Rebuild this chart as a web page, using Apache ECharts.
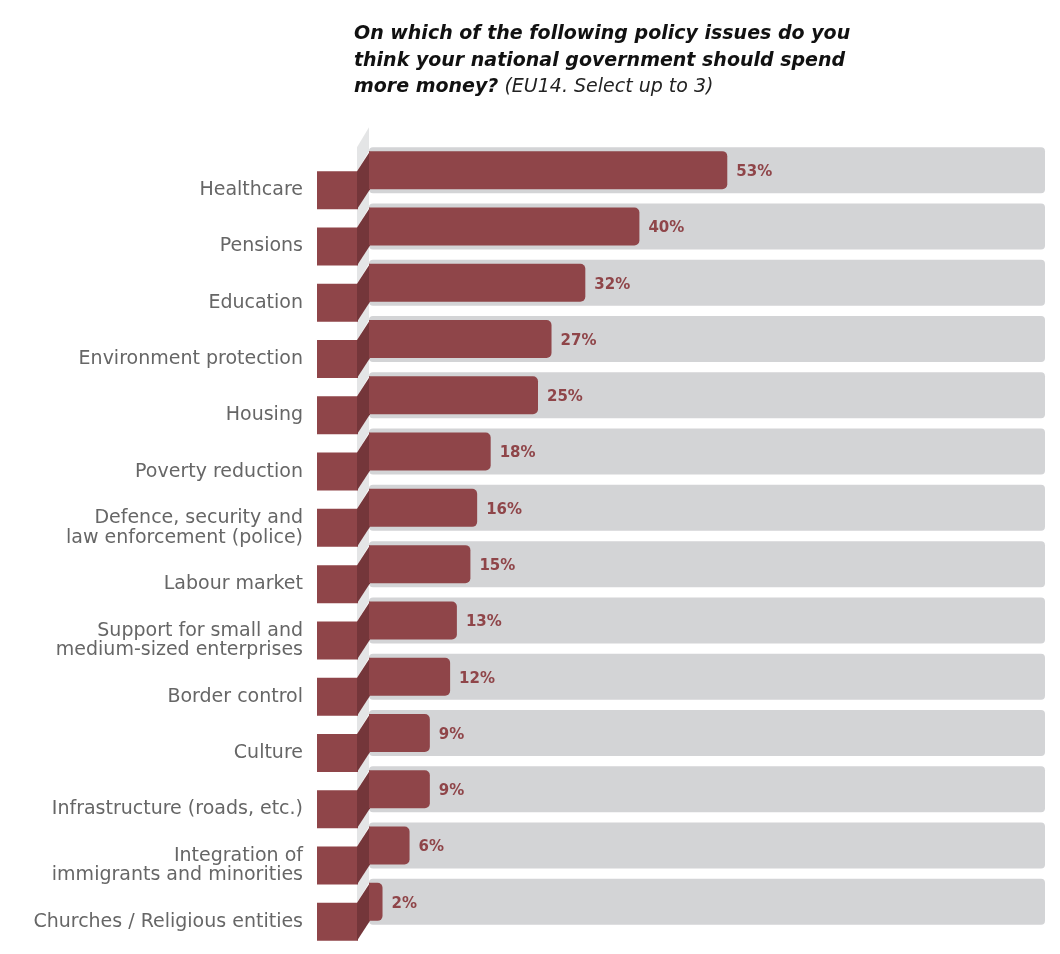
<!DOCTYPE html>
<html>
<head>
<meta charset="utf-8">
<script src="https://cdn.jsdelivr.net/npm/echarts@6/dist/echarts.min.js"></script>
<style>
  html, body { margin: 0; padding: 0; background: #fff; }
  #chart { width: 1060px; height: 954px; }
</style>
</head>
<body>
<div id="chart"></div>
<script>
// categories, top to bottom
const categories = [
  'Healthcare',
  'Pensions',
  'Education',
  'Environment protection',
  'Housing',
  'Poverty reduction',
  'Defence, security and\nlaw enforcement (police)',
  'Labour market',
  'Support for small and\nmedium-sized enterprises',
  'Border control',
  'Culture',
  'Infrastructure (roads, etc.)',
  'Integration of\nimmigrants and minorities',
  'Churches / Religious entities'
];
// share of respondents, %
const values = [53, 40, 32, 27, 25, 18, 16, 15, 13, 12, 9, 9, 6, 2];
const scaleMax = 100;

const RED = '#8f4549';
const RED_DARK = '#74363a';
const GRAY = '#d3d4d6';
const GRAY_FOLD = '#e4e5e6';

const chart = echarts.init(document.getElementById('chart'));

// gray track + light fold above each row
const renderTrack = (params, api) => {
  const i = api.value(1);
  const start = api.coord([0, i]);
  const end = api.coord([api.value(0), i]);
  const cy = start[1];
  const x0 = start[0];
  return {
    type: 'group',
    children: [
      {
        type: 'rect',
        shape: { x: x0, y: cy - 23, width: end[0] - x0, height: 46, r: 4 },
        style: { fill: GRAY }
      },
      {
        type: 'polygon',
        shape: { points: [[x0 - 12, cy - 23], [x0, cy - 43], [x0, cy - 19], [x0 - 12, cy + 1]] },
        style: { fill: GRAY_FOLD }
      }
    ]
  };
};

// folded ribbon: block on the left + dark slanted piece + category name
const renderFold = (params, api) => {
  const i = api.value(1);
  const start = api.coord([0, i]);
  const cy = start[1];
  const x0 = start[0];
  return {
    type: 'group',
    children: [
      {
        type: 'rect',
        shape: { x: x0 - 52, y: cy + 1, width: 41, height: 38 },
        style: { fill: RED }
      },
      {
        type: 'polygon',
        shape: { points: [[x0 - 12, cy + 1], [x0 + 1, cy - 19], [x0 + 1, cy + 19], [x0 - 12, cy + 39]] },
        style: { fill: RED_DARK }
      },
      {
        type: 'text',
        x: x0 - 66,
        y: cy + 20,
        style: {
          text: categories[i],
          align: 'right',
          verticalAlign: 'middle',
          fontFamily: 'DejaVu Sans',
          fontSize: 19,
          lineHeight: 19.5,
          fill: '#666'
        }
      }
    ]
  };
};

const rows = categories.map((c, i) => [scaleMax, i]);

chart.setOption({
  animation: false,
  title: {
    left: 349,
    top: 16,
    text: '{b|On which of the following policy issues do you}\n{b|think your national government should spend}\n{b|more money?}{n| (EU14. Select up to 3)}',
    textStyle: {
      rich: {
        b: { fontFamily: 'DejaVu Sans', fontWeight: 'bold', fontStyle: 'italic', fontSize: 19, color: '#111', lineHeight: 26.5 },
        n: { fontFamily: 'DejaVu Sans', fontWeight: 'normal', fontStyle: 'italic', fontSize: 19, color: '#222', lineHeight: 26.5 }
      }
    }
  },
  grid: { left: 369, right: 15, top: 142, bottom: 24 },
  xAxis: { type: 'value', min: 0, max: scaleMax, show: false },
  yAxis: {
    type: 'category',
    inverse: true,
    data: categories,
    axisLine: { show: false },
    axisTick: { show: false },
    splitLine: { show: false },
    axisLabel: { show: false }
  },
  series: [
    {
      type: 'custom',
      renderItem: renderTrack,
      data: rows,
      encode: { x: 0, y: 1 },
      clip: false,
      silent: true,
      z: 1
    },
    {
      type: 'custom',
      renderItem: renderFold,
      data: rows,
      encode: { x: 0, y: 1 },
      clip: false,
      silent: true,
      z: 2
    },
    {
      type: 'bar',
      data: values,
      barWidth: 38,
      z: 3,
      itemStyle: { color: RED, borderRadius: [0, 5, 5, 0] },
      label: {
        show: true,
        position: 'right',
        distance: 9,
        offset: [0, 2],
        formatter: '{c}%',
        fontFamily: 'DejaVu Sans',
        fontWeight: 'bold',
        fontSize: 15,
        color: RED
      }
    }
  ]
});
</script>
</body>
</html>
